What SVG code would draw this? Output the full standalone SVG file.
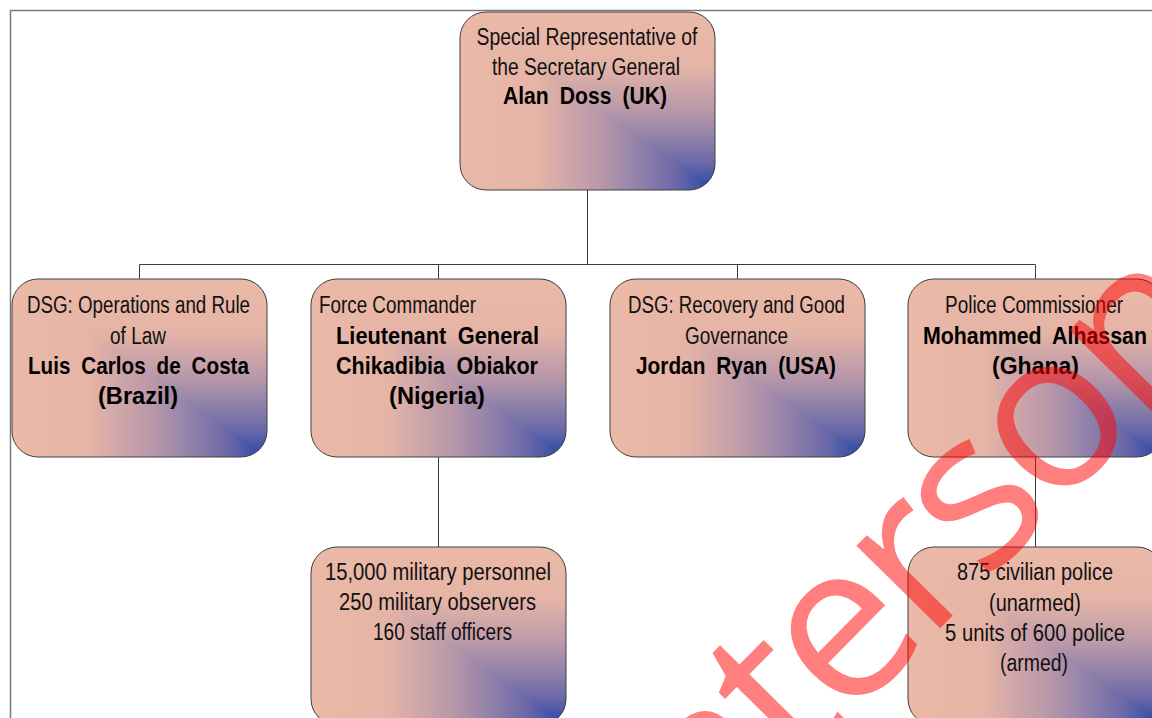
<svg xmlns="http://www.w3.org/2000/svg" width="1152" height="718" viewBox="0 0 1152 718">
<style>
.box{fill:none;stroke:#404040;stroke-width:1}
.ln{fill:none;stroke:#3c3c3c;stroke-width:1}
.t{font-family:"Liberation Sans Narrow","Liberation Sans",Arial,sans-serif;font-size:23px;fill:#111;text-anchor:middle}
.b{font-family:"Liberation Sans",Arial,sans-serif;font-weight:bold;font-size:24px;fill:#000;text-anchor:middle;word-spacing:6px}
.l{text-anchor:start}
.wm{font-family:"Open Sans","Noto Sans",sans-serif;font-size:220px;letter-spacing:-8px;fill:#ff0000;fill-opacity:0.5}
</style>
<defs>
<linearGradient id="gh" x1="0" y1="0" x2="1" y2="0">
<stop offset="0" stop-color="#ebb9a7"/>
<stop offset="0.3" stop-color="#e5b4a6"/>
<stop offset="0.4" stop-color="#d3a9a8"/>
<stop offset="0.55" stop-color="#b898a9"/>
<stop offset="0.7" stop-color="#9282a9"/>
<stop offset="0.85" stop-color="#6a68a8"/>
<stop offset="0.95" stop-color="#3a52a8"/>
<stop offset="1" stop-color="#2046a8"/>
</linearGradient>
<linearGradient id="gv" href="#gh" x1="0" y1="0" x2="0" y2="1"/>
<clipPath id="rr"><rect width="255" height="178" rx="26"/></clipPath>
<g id="fill" clip-path="url(#rr)">
<rect width="255" height="178" fill="url(#gh)"/>
<polygon points="0,0 255,0 255,178" fill="url(#gv)"/>
</g>
</defs>
<rect width="1152" height="718" fill="#fff"/>
<rect x="10.5" y="10.5" width="1200" height="800" fill="none" stroke="#7a7a7a" stroke-width="1.5"/>

<g id="connectors">
<path class="ln" d="M587.5 190V264.5M139.5 264.5H1035.5M139.5 264.5V279M438.5 264.5V279M737.5 264.5V279M1035.5 264.5V279M438.5 457V547M1035.5 457V547"/>
</g>

<g id="node-srsg">
<use href="#fill" x="460" y="12"/>
<rect class="box" x="460" y="12" width="255" height="178" rx="26"/>
<text class="t" x="587" y="45" textLength="221" lengthAdjust="spacingAndGlyphs">Special Representative of</text>
<text class="t" x="586" y="75" textLength="188" lengthAdjust="spacingAndGlyphs">the Secretary General</text>
<text class="b" x="585" y="104" textLength="164" lengthAdjust="spacingAndGlyphs">Alan Doss (UK)</text>
</g>

<g id="node-dsg-ops">
<use href="#fill" x="12" y="279"/>
<rect class="box" x="12" y="279" width="255" height="178" rx="26"/>
<text class="t" x="138.5" y="313" textLength="223" lengthAdjust="spacingAndGlyphs">DSG: Operations and Rule</text>
<text class="t" x="138" y="344" textLength="56" lengthAdjust="spacingAndGlyphs">of Law</text>
<text class="b" x="138.5" y="374" textLength="221" lengthAdjust="spacingAndGlyphs">Luis Carlos de Costa</text>
<text class="b" x="138" y="404" textLength="80" lengthAdjust="spacingAndGlyphs">(Brazil)</text>
</g>

<g id="node-force">
<use href="#fill" x="311" y="279"/>
<rect class="box" x="311" y="279" width="255" height="178" rx="26"/>
<text class="t l" x="319" y="313" textLength="157" lengthAdjust="spacingAndGlyphs">Force Commander</text>
<text class="b" x="437.5" y="344" textLength="203" lengthAdjust="spacingAndGlyphs">Lieutenant General</text>
<text class="b" x="437" y="374" textLength="202" lengthAdjust="spacingAndGlyphs">Chikadibia Obiakor</text>
<text class="b" x="437" y="404" textLength="96" lengthAdjust="spacingAndGlyphs">(Nigeria)</text>
</g>

<g id="node-dsg-rec">
<use href="#fill" x="610" y="279"/>
<rect class="box" x="610" y="279" width="255" height="178" rx="26"/>
<text class="t" x="736.5" y="313" textLength="217" lengthAdjust="spacingAndGlyphs">DSG: Recovery and Good</text>
<text class="t" x="736.5" y="344" textLength="103" lengthAdjust="spacingAndGlyphs">Governance</text>
<text class="b" x="736" y="374" textLength="200" lengthAdjust="spacingAndGlyphs">Jordan Ryan (USA)</text>
</g>

<g id="node-police">
<use href="#fill" x="908" y="279"/>
<rect class="box" x="908" y="279" width="255" height="178" rx="26"/>
<text class="t" x="1034" y="313" textLength="178" lengthAdjust="spacingAndGlyphs">Police Commissioner</text>
<text class="b" x="1035" y="344" textLength="224" lengthAdjust="spacingAndGlyphs">Mohammed Alhassan</text>
<text class="b" x="1035.5" y="374" textLength="87" lengthAdjust="spacingAndGlyphs">(Ghana)</text>
</g>

<g id="node-military">
<use href="#fill" x="311" y="547"/>
<rect class="box" x="311" y="547" width="255" height="178" rx="26"/>
<text class="t" x="438" y="580" textLength="226" lengthAdjust="spacingAndGlyphs">15,000 military personnel</text>
<text class="t" x="437.5" y="610" textLength="197" lengthAdjust="spacingAndGlyphs">250 military observers</text>
<text class="t" x="442.5" y="640" textLength="139" lengthAdjust="spacingAndGlyphs">160 staff officers</text>
</g>

<g id="node-police-units">
<use href="#fill" x="908" y="547"/>
<rect class="box" x="908" y="547" width="255" height="178" rx="26"/>
<text class="t" x="1035" y="580" textLength="156" lengthAdjust="spacingAndGlyphs">875 civilian police</text>
<text class="t" x="1035" y="611" textLength="92" lengthAdjust="spacingAndGlyphs">(unarmed)</text>
<text class="t" x="1035" y="641" textLength="180" lengthAdjust="spacingAndGlyphs">5 units of 600 police</text>
<text class="t" x="1034" y="671" textLength="68" lengthAdjust="spacingAndGlyphs">(armed)</text>
</g>

<g id="watermark">
<text class="wm" transform="translate(716.3,855.5) rotate(-45.4)">aterson</text>
</g>
</svg>
